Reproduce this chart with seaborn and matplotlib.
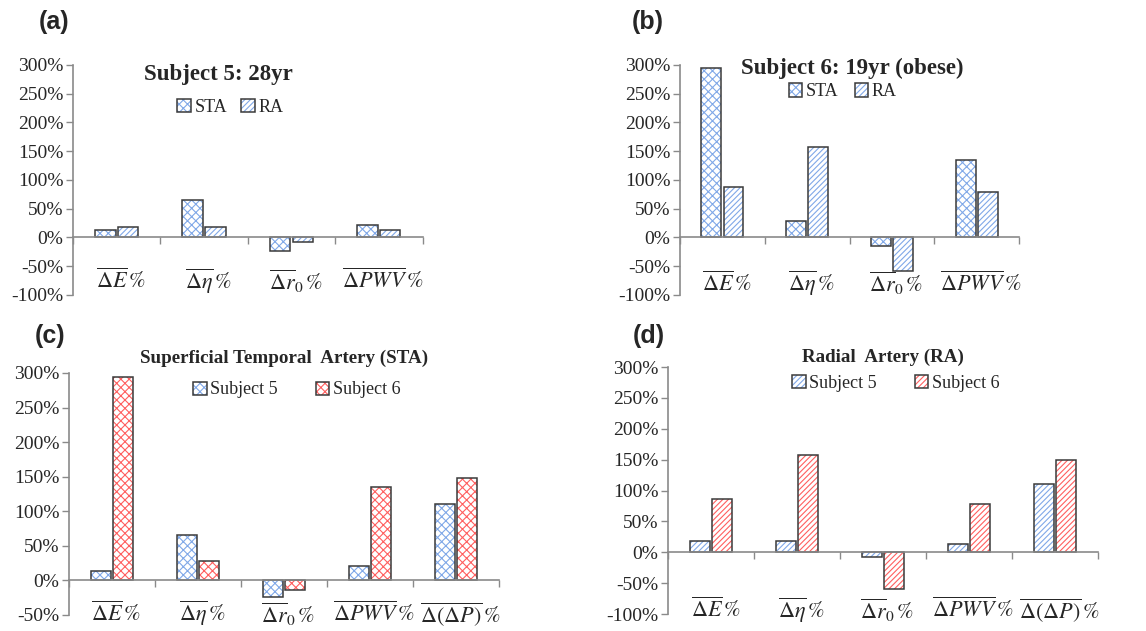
import numpy as np
import pandas as pd
import seaborn as sns
import matplotlib.pyplot as plt
from matplotlib.colors import to_rgba
from matplotlib.ticker import FuncFormatter, MultipleLocator
import matplotlib.transforms as mtrans

# ---- data (percent change) ----
params4 = ["dE", "deta", "dr0", "dPWV"]
params5 = ["dE", "deta", "dr0", "dPWV", "ddP"]
param_labels = {
    "dE": r"$\overline{\Delta E}\,\%$",
    "deta": r"$\overline{\Delta \eta}\,\%$",
    "dr0": r"$\overline{\Delta r}_{0}\,\%$",
    "dPWV": r"$\overline{\Delta PWV}\,\%$",
    "ddP": r"$\overline{\Delta(\Delta P)}\,\%$",
}

s5_sta = [13, 65, -24, 21, 110]
s5_ra = [18, 18, -8, 13, 111]
s6_sta = [294, 28, -14, 135, 148]
s6_ra = [87, 158, -59, 79, 149]

BLUE = "#80a8e8"
RED = "#ff5f5f"
EDGE = "#3a3a3a"
AXCOL = "#8a8a8a"
HATCH_STA = "xxxx"
HATCH_RA = "//////"

sns.set_theme(style="white")
plt.rcParams["font.family"] = ["Liberation Serif", "DejaVu Serif"]
plt.rcParams["mathtext.fontset"] = "stix"
plt.rcParams["hatch.linewidth"] = 0.8


def make_df(params, series):
    rows = []
    for name, vals in series.items():
        for p, v in zip(params, vals):
            rows.append({"param": p, "value": v, "series": name})
    return pd.DataFrame(rows)


def draw_panel(ax, params, series, hatches, colors, ylim, title, title_xy,
               title_size, leg_xy, colspace, label_y):
    df = make_df(params, series)
    names = list(series.keys())
    sns.barplot(data=df, x="param", y="value", hue="series", order=params,
                hue_order=names, width=0.52, gap=0.1, ax=ax, legend=False,
                palette=["white"] * len(names), saturation=1)
    for cont, h, c in zip(ax.containers, hatches, colors):
        for p in cont.patches:
            p.set_facecolor("white")
            p.set_edgecolor(EDGE)
            p.set_linewidth(1.1)
            p.set_hatch(h)
            p._hatch_color = to_rgba(c)
            p.stale = True
    ax.legend(ax.containers, names, loc="center", bbox_to_anchor=leg_xy,
              ncol=len(names), frameon=False, fontsize=13,
              handlelength=0.75, handleheight=0.75, handletextpad=0.2,
              columnspacing=colspace, borderaxespad=0)
    ax.set_ylim(*ylim)
    ax.set_xlim(-0.5, len(params) - 0.5)
    ax.yaxis.set_major_locator(MultipleLocator(50))
    ax.yaxis.set_major_formatter(FuncFormatter(lambda v, pos: f"{int(round(v))}%"))
    ax.tick_params(axis="y", labelsize=14, length=5, width=1, color=AXCOL,
                   direction="out", left=True, pad=2)
    for s in ["top", "right"]:
        ax.spines[s].set_visible(False)
    ax.spines["left"].set_color(AXCOL)
    ax.spines["left"].set_linewidth(1.2)
    ax.spines["bottom"].set_position(("data", 0))
    ax.spines["bottom"].set_color(AXCOL)
    ax.spines["bottom"].set_linewidth(1.2)
    ax.set_xticks(np.arange(-0.5, len(params), 1.0))
    ax.set_xticklabels([])
    ax.tick_params(axis="x", length=5, width=1, color=AXCOL, direction="out",
                   bottom=True)
    ax.set_xlabel("")
    ax.set_ylabel("")
    trans = mtrans.blended_transform_factory(ax.transData, ax.transAxes)
    for i, p in enumerate(params):
        ax.text(i + 0.05, label_y, param_labels[p], transform=trans,
                ha="center", va="center", fontsize=16)
    ax.text(title_xy[0], title_xy[1], title, transform=ax.transAxes,
            ha="center", va="center", fontsize=title_size, fontweight="bold")
    ax.grid(False)


fig = plt.figure(figsize=(11.46, 6.31), dpi=100)
ax_a = fig.add_axes([0.0637, 0.5325, 0.305, 0.3645])
ax_b = fig.add_axes([0.5934, 0.5325, 0.2958, 0.3645])
ax_c = fig.add_axes([0.0602, 0.0254, 0.375, 0.3835])
ax_d = fig.add_axes([0.5829, 0.0269, 0.3752, 0.3914])

draw_panel(ax_a, params4, {"STA": s5_sta[:4], "RA": s5_ra[:4]},
           [HATCH_STA, HATCH_RA], [BLUE, BLUE], (-100, 300),
           "Subject 5: 28yr", (0.415, 0.96), 16.5, (0.45, 0.817), 0.8, 0.06)
draw_panel(ax_b, params4, {"STA": s6_sta[:4], "RA": s6_ra[:4]},
           [HATCH_STA, HATCH_RA], [BLUE, BLUE], (-100, 300),
           "Subject 6: 19yr (obese)", (0.507, 0.985), 16.5, (0.48, 0.883), 0.9, 0.05)
draw_panel(ax_c, params5, {"Subject 5": s5_sta, "Subject 6": s6_sta},
           [HATCH_STA, HATCH_STA], [BLUE, RED], (-50, 300),
           "Superficial Temporal  Artery (STA)", (0.5, 1.062), 13.7, (0.53, 0.93), 2.1, 0.005)
draw_panel(ax_d, params5, {"Subject 5": s5_ra, "Subject 6": s6_ra},
           [HATCH_RA, HATCH_RA], [BLUE, RED], (-100, 300),
           "Radial  Artery (RA)", (0.5, 1.04), 13.7, (0.53, 0.935), 2.1, 0.016)

for lab, x, y in [("(a)", 0.047, 0.965), ("(b)", 0.565, 0.965),
                  ("(c)", 0.044, 0.468), ("(d)", 0.566, 0.468)]:
    fig.text(x, y, lab, fontsize=18, fontweight="bold",
             family=["Liberation Sans", "DejaVu Sans"], ha="center", va="center")

fig.savefig("out.png", dpi=100)
